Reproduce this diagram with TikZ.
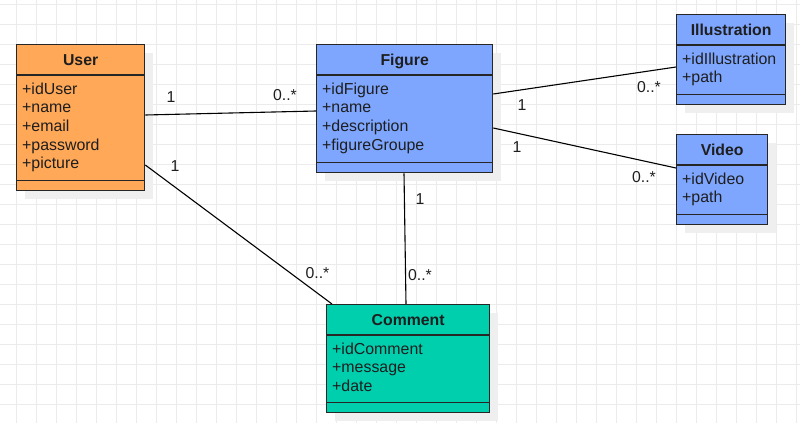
\documentclass[tikz,border=0pt]{standalone}
\usepackage{fontspec}
\setmainfont{Liberation Sans}
\usetikzlibrary{calc}
\definecolor{userc}{HTML}{FFA857}
\definecolor{figc}{HTML}{7EA6FF}
\definecolor{comc}{HTML}{00CFAE}
\definecolor{gridc}{HTML}{EBEBEB}
\definecolor{shadc}{HTML}{EFEFEF}
\definecolor{linec}{HTML}{262626}
\definecolor{txtc}{HTML}{1E1E1E}
\tikzset{
  cls/.style={draw=linec, line width=1.3pt, anchor=north west, inner sep=0pt},
  clsline/.style={draw=linec, line width=1.3pt},
  ttl/.style={anchor=base, inner sep=0pt, text=txtc, font=\fontsize{15.8}{18}\selectfont\bfseries},
  attr/.style={anchor=base west, inner sep=0pt, text=txtc, font=\fontsize{15.9}{18}\selectfont},
  mult/.style={anchor=base, inner sep=0pt, text=txtc, font=\fontsize{15.8}{18}\selectfont},
  assoc/.style={draw=black, line width=1.1pt},
  gridline/.style={draw=gridc, line width=1pt},
  shadowbox/.style={fill=shadc}
}
\newcommand\umlbox[8]{%
  \fill[shadowbox] (#2+9,#3+9) rectangle ++(#4,#5);
  \node[cls, fill=#6, minimum width=#4, minimum height=#5] (#1) at (#2,#3) {};
  \draw[clsline] ($(#1.north west)+(0,31)$) -- ($(#1.north east)+(0,31)$);
  \draw[clsline] ($(#1.south west)+(0,-11)$) -- ($(#1.south east)+(0,-11)$);
  \node[ttl] (#1-t) at ($(#1.north)+(0,21)$) {#7};
  \foreach \a [count=\i] in {#8}
    \node[attr] (#1-a\i) at ($(#1.north west)+(6,{50+(\i-1)*18.7})$) {\a};
}
\begin{document}
\begin{tikzpicture}[x=1pt,y=-1pt]
\useasboundingbox (0,0) rectangle (800,423);
\fill[white] (0,0) rectangle (800,423);
\foreach \gx in {16,36,...,796} \draw[gridline] (\gx,0) -- (\gx,423);
\foreach \gy in {4,24,...,424} \draw[gridline] (0,\gy) -- (800,\gy);

\umlbox{user}{16}{44}{128}{146}{userc}{User}{+idUser,+name,+email,+password,+picture}
\umlbox{figure}{316}{44}{176}{128}{figc}{Figure}{+idFigure,+name,+description,+figureGroupe}
\umlbox{illus}{676}{14}{109}{90}{figc}{Illustration}{+idIllustration,+path}
\umlbox{video}{676}{134}{91}{90}{figc}{Video}{+idVideo,+path}
\umlbox{comment}{326}{304}{163}{108}{comc}{Comment}{+idComment,+message,+date}

\draw[assoc] ($(user.north east)+(0,71)$) -- ($(figure.north west)+(0,67)$);
\draw[assoc] ($(user.north east)+(0,121)$) -- ($(comment.north west)+(6,0)$);
\draw[assoc] ($(figure.south west)+(88,0)$) -- ($(comment.north west)+(80,0)$);
\draw[assoc] ($(figure.north east)+(0,50)$) -- ($(illus.north west)+(0,53)$);
\draw[assoc] ($(figure.north east)+(0,84)$) -- ($(video.north west)+(0,34)$);

\node[mult] (m1) at (171,102.7) {1};
\node[mult] (m2) at (285,100) {0..*};
\node[mult] (m3) at (175,171.7) {1};
\node[mult] (m4) at (317.5,278.3) {0..*};
\node[mult] (m5) at (420,204) {1};
\node[mult] (m6) at (420,280) {0..*};
\node[mult] (m7) at (522,110) {1};
\node[mult] (m8) at (649,92.3) {0..*};
\node[mult] (m9) at (517,152.3) {1};
\node[mult] (m10) at (644,182.3) {0..*};
\end{tikzpicture}
\end{document}
